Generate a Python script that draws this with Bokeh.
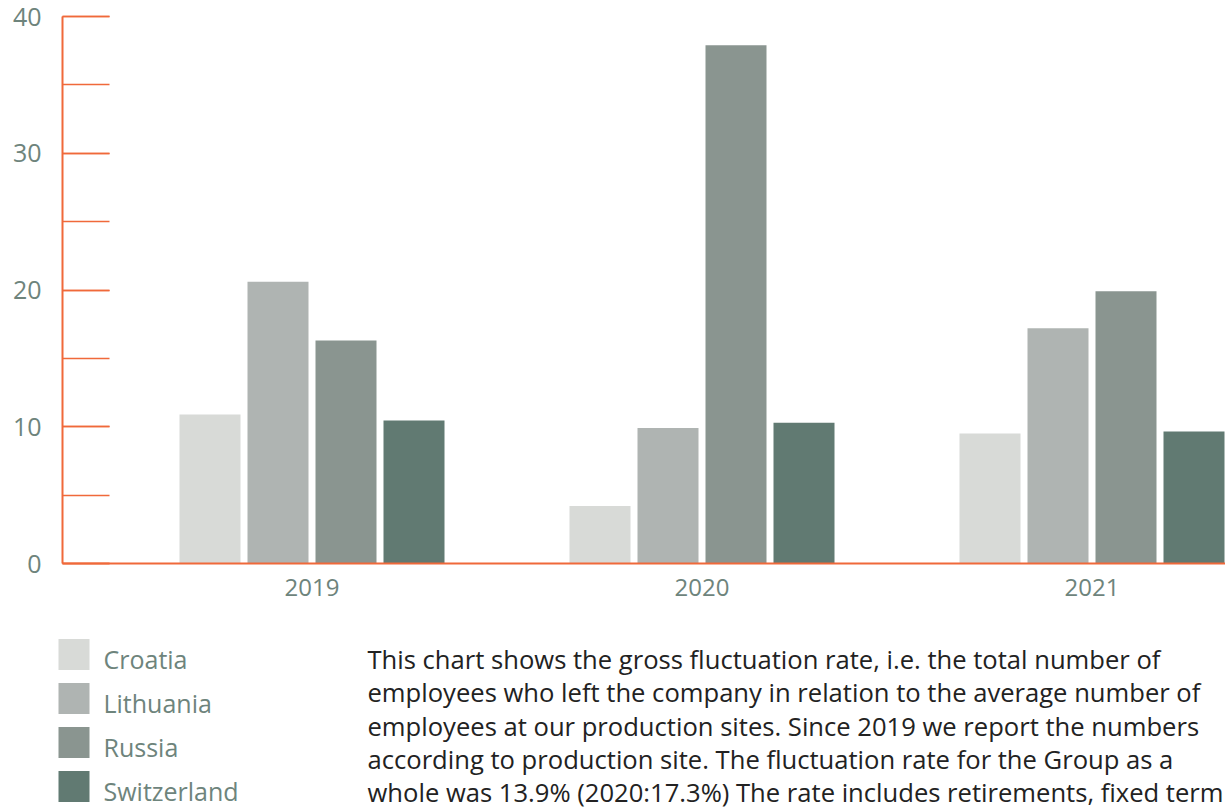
from bokeh.plotting import figure
from bokeh.models import Range1d, SingleIntervalTicker, FixedTicker, ColumnDataSource
from bokeh.embed import file_html
from bokeh.resources import INLINE
from bokeh.core.properties import value
from bokeh.transform import dodge

# ---------------- data ----------------
years = ["2019", "2020", "2021"]
countries = ["Croatia", "Lithuania", "Russia", "Switzerland"]
croatia = [10.9, 4.2, 9.5]
lithuania = [20.6, 9.9, 17.2]
russia = [16.3, 37.9, 19.9]
switzerland = [10.45, 10.3, 9.65]
y_max = 40
y_tick_interval = 10
note_lines = [
    "This chart shows the gross fluctuation rate, i.e. the total number of",
    "employees who left the company in relation to the average number of",
    "employees at our production sites. Since 2019 we report the numbers",
    "according to production site. The fluctuation rate for the Group as a",
    "whole was 13.9% (2020:17.3%) The rate includes retirements, fixed term",
]

# ---------------- styles ----------------
colors = ["#D8DAD7", "#AFB4B2", "#8A9590", "#617A72"]
ORANGE = "#F0693A"
LABEL = "#6E847C"
TEXT = "#222222"
FONT = "Open Sans"
W = 1225
H1 = 628
H2 = 181
LEFT = 62
PX_PER_GROUP = 390.0
BAR_W = 61 / PX_PER_GROUP
BAR_STEP = 68 / PX_PER_GROUP

x_start = -(311.5 - LEFT) / PX_PER_GROUP
x_end = x_start + (W - LEFT) / PX_PER_GROUP

src = ColumnDataSource(dict(
    x=list(range(len(years))),
    Croatia=croatia, Lithuania=lithuania, Russia=russia, Switzerland=switzerland,
))

p = figure(width=W, height=H1, output_backend="svg", toolbar_location=None,
           x_range=Range1d(x_start, x_end), y_range=Range1d(0, y_max),
           min_border_left=LEFT, min_border_right=0, min_border_top=16,
           min_border_bottom=65)
p.background_fill_color = "white"
p.border_fill_color = "white"
p.outline_line_color = None
p.xgrid.visible = False
p.ygrid.visible = False

n = len(countries)
for k, c in enumerate(countries):
    p.vbar(x=dodge("x", (k - (n - 1) / 2) * BAR_STEP, range=p.x_range),
           top=c, width=BAR_W, source=src, fill_color=colors[k], line_color=None)

# x axis
xa = p.xaxis[0]
xa.ticker = FixedTicker(ticks=list(range(len(years))))
xa.major_label_overrides = {i: y for i, y in enumerate(years)}
xa.major_tick_in = 0
xa.major_tick_out = 0
xa.minor_tick_in = 0
xa.minor_tick_out = 0
xa.axis_line_color = ORANGE
xa.axis_line_width = 2
xa.major_label_standoff = 15
xa.major_label_text_font = FONT
xa.major_label_text_font_size = "24px"
xa.major_label_text_color = LABEL

# y axis
ya = p.yaxis[0]
ya.ticker = SingleIntervalTicker(interval=y_tick_interval, num_minor_ticks=2)
ya.major_tick_in = 47
ya.major_tick_out = 0
ya.minor_tick_in = 47
ya.minor_tick_out = 0
ya.axis_line_color = ORANGE
ya.axis_line_width = 2
ya.major_tick_line_color = ORANGE
ya.minor_tick_line_color = ORANGE
ya.major_tick_line_width = 1.5
ya.minor_tick_line_width = 1.5
ya.major_label_standoff = 21
ya.major_label_text_font = FONT
ya.major_label_text_font_size = "25px"
ya.major_label_text_color = LABEL

# ---------------- legend + note ----------------
p2 = figure(width=W, height=H2, output_backend="svg", toolbar_location=None,
            x_range=Range1d(0, W), y_range=Range1d(H2, 0),
            min_border=0, min_border_left=0, min_border_right=0,
            min_border_top=0, min_border_bottom=0,
            x_axis_location=None, y_axis_location=None)
p2.outline_line_color = None
p2.xgrid.visible = False
p2.ygrid.visible = False
p2.background_fill_color = "white"
p2.border_fill_color = "white"

leg_step = 44.0
leg = ColumnDataSource(dict(
    y_sq=[26.0 + leg_step * k for k in range(n)],
    y_txt=[30.0 + leg_step * k for k in range(n)],
    name=countries, color=colors,
))
p2.rect(x=73.5, y="y_sq", width=31, height=31, fill_color="color",
        line_color=None, source=leg)
p2.text(x=103, y="y_txt", text="name", source=leg, text_font=value(FONT),
        text_font_size="25px", text_color=LABEL, text_baseline="alphabetic")

note = ColumnDataSource(dict(
    y=[31.0 + 33.3 * k for k in range(len(note_lines))],
    text=note_lines,
))
p2.text(x=367, y="y", text="text", source=note, text_font=value(FONT),
        text_font_size="25.6px", text_color=TEXT, text_baseline="alphabetic")

open("out.html", "w").write(file_html([p, p2], INLINE))
